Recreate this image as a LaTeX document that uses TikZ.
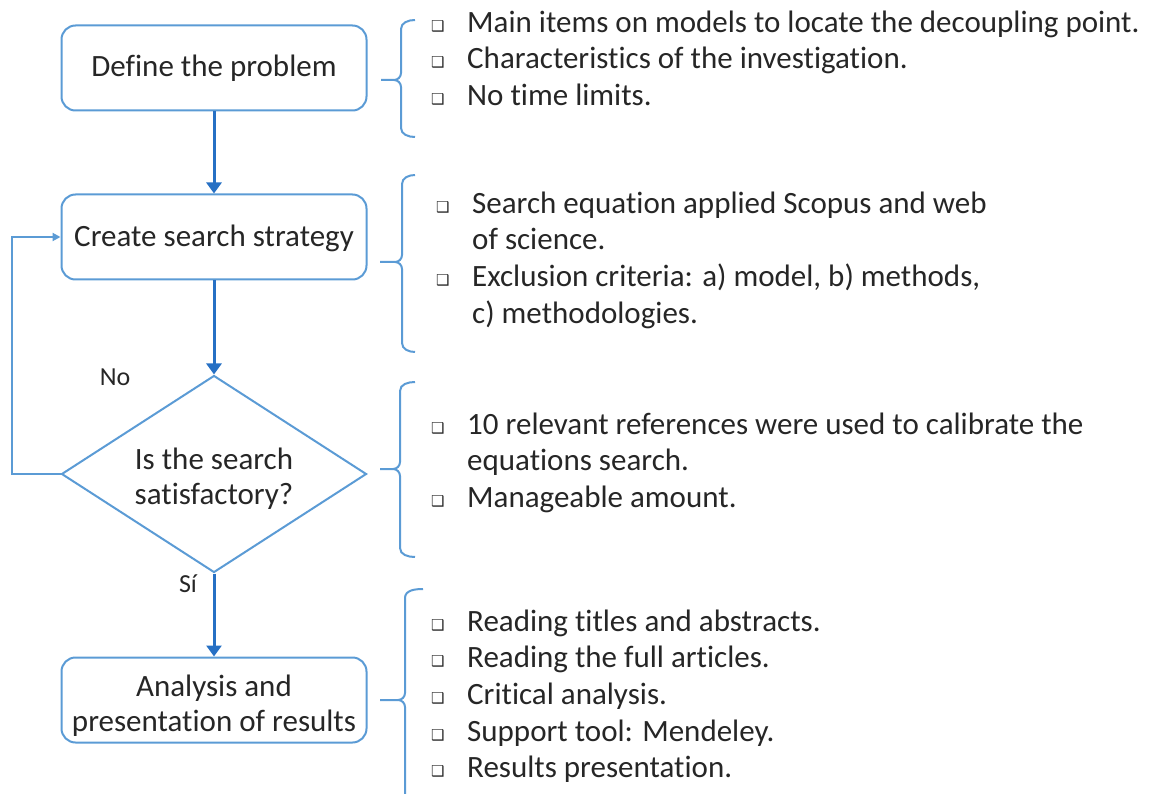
\documentclass[tikz,border=0pt]{standalone}
\usepackage{fontspec}
\setmainfont{Carlito}[Ligatures=NoCommon]
\newfontfamily\symfont{DejaVu Sans}
\usetikzlibrary{shapes.geometric,arrows.meta}
\definecolor{boxblue}{RGB}{91,155,213}
\definecolor{flowblue}{RGB}{38,112,196}
\definecolor{ink}{RGB}{38,38,38}
\newcommand\sqb{{\symfont\fontsize{15}{15}\selectfont\raisebox{1pt}{❑}}}
\newcommand\itm[1]{\makebox[36pt][l]{\sqb}#1}
\newcommand\cnt[1]{\makebox[36pt][l]{}#1}
% curly bracket: vertical x, top y, tip y, bottom y, hook x, tip x
\newcommand\bracegroup[6]{%
  \draw[bracestyle] (#5,#2) to[out=180,in=90] (#1,{#2+9}) -- (#1,{#3-7})
    to[out=-90,in=0] ({#1-7},#3) -- (#6,#3);
  \draw[bracestyle] ({#1-7},#3) to[out=0,in=90] (#1,{#3+7}) -- (#1,{#4-9})
    to[out=-90,in=180] (#5,#4);}
\begin{document}
\begin{tikzpicture}[x=1pt,y=-1pt,
  font=\fontsize{31}{35}\selectfont, text=ink,
  stepbox/.style={draw=boxblue, line width=2pt, rounded corners=14pt,
    minimum width=305pt, minimum height=85pt, align=center, inner sep=2pt},
  decision/.style={draw=boxblue, line width=2pt, diamond, aspect=1.548,
    minimum width=305pt, minimum height=197pt, align=center, inner sep=0pt},
  flow/.style={draw=flowblue, line width=3pt,
    -{Triangle[length=11pt,width=15pt]}},
  loopback/.style={draw=boxblue, line width=2pt,
    -{Triangle[length=8pt,width=8pt]}},
  bracestyle/.style={draw=boxblue, line width=2pt},
  listing/.style={anchor=north west, align=left, inner sep=0pt,
    font=\fontsize{31}{36.7}\selectfont},
  tag/.style={font=\fontsize{26}{30}\selectfont}]
\useasboundingbox (0,0) rectangle (1151,794);

% flowchart
\node[stepbox] (define) at (214,68) {Define the problem};
\node[stepbox] (create) at (214,237) {\rule{0pt}{25pt}Create search strategy};
\node[decision] (check) at (214,474) {\rule{0pt}{30pt}Is the search\\satisfactory?};
\node[stepbox] (analysis) at (214,700) {\rule{0pt}{32pt}Analysis and\\presentation of results};

\draw[flow] (define) -- (create);
\draw[flow] (create) -- (check);
\draw[flow] (check.south) -- (analysis);
\coordinate (loopcorner) at (12,474);
\draw[loopback] (check.west) -- (loopcorner) |- (create.west);

\node[tag] (nolabel) at (115,377) {No};
\node[tag] (silabel) at (188,584) {Sí};

% notes beside each step
\node[listing] (notes1) at (431,6.3) {\strut\itm{Main items on models to locate the decoupling point.}\\
  \itm{Characteristics of the investigation.}\\
  \itm{No time limits.}};
\node[listing] (notes2) at (436,187.3) {\strut\itm{Search equation applied Scopus and web}\\
  \cnt{of science.}\\
  \itm{Exclusion criteria: a) model, b) methods,}\\
  \cnt{c) methodologies.}};
\node[listing] (notes3) at (431,408.3) {\strut\itm{10 relevant references were used to calibrate the}\\
  \cnt{equations search.}\\
  \itm{Manageable amount.}};
\node[listing] (notes4) at (431,605.3) {\strut\itm{Reading titles and abstracts.}\\
  \itm{Reading the full articles.}\\
  \itm{Critical analysis.}\\
  \itm{Support tool: Mendeley.}\\
  \itm{Results presentation.}};

% curly brackets
\bracegroup{401}{20}{80}{137}{415}{381}
\bracegroup{402}{175}{262}{352}{415}{380}
\bracegroup{400}{382}{469}{557}{415}{380}
\bracegroup{405}{589}{700}{810}{423}{380}
\end{tikzpicture}
\end{document}
